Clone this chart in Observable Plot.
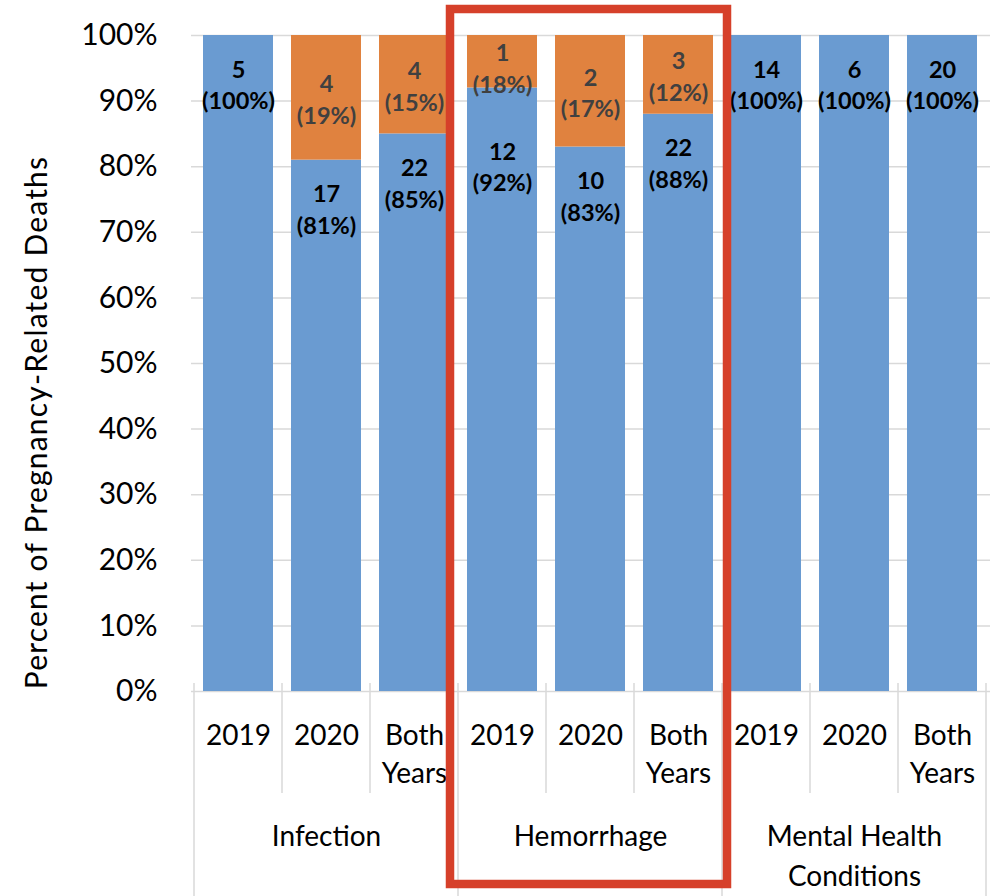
<!DOCTYPE html>
<html><head><meta charset="utf-8">
<script src="https://cdn.jsdelivr.net/npm/d3@7"></script>
<script src="https://cdn.jsdelivr.net/npm/@observablehq/plot@0.6"></script>
<style>body{margin:0;background:#fff;} svg{display:block}</style>
</head><body><div id="chart"></div>
<script>
const groups = ["Infection", "Hemorrhage", "Mental Health Conditions"];
const groupLabels = ["Infection", "Hemorrhage", "Mental Health\nConditions"];
const years = ["2019", "2020", "Both Years"];
const yearLabels = ["2019", "2020", "Both\nYears"];
const blueCounts = [5, 17, 22, 12, 10, 22, 14, 6, 20];
const bluePcts = [100, 81, 85, 92, 83, 88, 100, 100, 100];
const orangeCounts = [null, 4, 4, 1, 2, 3, null, null, null];
const orangePctLabels = [null, 19, 15, 18, 17, 12, null, null, null];
const yTicks = [0, 10, 20, 30, 40, 50, 60, 70, 80, 90, 100];
const yTitle = "Percent of Pregnancy-Related Deaths";

const keys = [];
const rows = [];
groups.forEach((g, gi) => years.forEach((yr, yi) => {
  const i = gi * 3 + yi;
  const key = g + "|" + yr;
  keys.push(key);
  const hasO = orangeCounts[i] != null;
  const oSize = 100 - bluePcts[i];
  const oCenter = Math.min((bluePcts[i] + 100) / 2, 95.2);
  // label inside end of blue segment, pushed down when the orange segment is thin
  const bLab = bluePcts[i] - (hasO && oSize < 10 ? 11.8 : 7.3);
  rows.push({key, group: g, yearLabel: yearLabels[yi], bc: blueCounts[i], bp: bluePcts[i],
    oc: orangeCounts[i], op: orangePctLabels[i], hasO, oCenter, bLab});
}));
const groupRows = groups.map((g, gi) => ({key: g + "|" + years[1], label: groupLabels[gi]}));

const plot = Plot.plot({
  width: 999, height: 896,
  marginLeft: 191, marginRight: 9, marginTop: 35, marginBottom: 205,
  x: {domain: keys, paddingInner: 0.2, paddingOuter: 0.1, axis: null},
  y: {domain: [0, 100], axis: null},
  style: {fontFamily: "Lato, sans-serif", fontSize: "28px", color: "#000", background: "#fff", overflow: "visible"},
  marks: [
    Plot.ruleY(yTicks, {y: d => d, stroke: "#d9d9d9", strokeWidth: 1.5}),
    Plot.barY(rows, {x: "key", y1: 0, y2: "bp", fill: "#6a9bd1"}),
    Plot.barY(rows.filter(d => d.hasO), {x: "key", y1: "bp", y2: 100, fill: "#e0823f"}),
    Plot.text(rows, {x: "key", y: "bLab", text: d => `${d.bc}\n(${d.bp}%)`, fontWeight: "bold", fontSize: 23.5, lineHeight: 1.35, fill: "#000"}),
    Plot.text(rows.filter(d => d.hasO), {x: "key", y: "oCenter", text: d => `${d.oc}\n(${d.op}%)`, fontWeight: "bold", fontSize: 23.5, lineHeight: 1.35, fill: "#404040"}),
    Plot.text(yTicks, {y: d => d, frameAnchor: "left", dx: -34, textAnchor: "end", text: d => d + "%", fontSize: 30, fill: "#000"}),
    Plot.text([yTitle], {frameAnchor: "left", dx: -154, dy: 59, rotate: -90, textAnchor: "middle", text: d => d, fontSize: 30, fill: "#000"}),
    Plot.text(rows, {x: "key", text: "yearLabel", frameAnchor: "bottom", lineAnchor: "top", dy: 26, lineHeight: 1.36, fontSize: 28, fill: "#000"}),
    Plot.text(groupRows, {x: "key", text: "label", frameAnchor: "bottom", lineAnchor: "top", dy: 126, lineHeight: 1.43, fontSize: 28, fill: "#000"})
  ]
});
document.getElementById("chart").appendChild(plot);

const svg = d3.select(plot);
svg.selectAll("text").filter(function() { return this.textContent === yTitle; })
  .style("letter-spacing", "1.2px");

const xs = plot.scale("x");
const ys = plot.scale("y");
const bw = xs.bandwidth;
const step = xs.apply(keys[1]) - xs.apply(keys[0]);
const gap = (step - bw) / 2;
const y0 = ys.apply(0);
const sep = svg.append("g").attr("stroke", "#d9d9d9").attr("stroke-width", 1.5);
for (let k = 0; k <= keys.length; k++) {
  const x = k < keys.length ? xs.apply(keys[k]) - gap : xs.apply(keys[keys.length - 1]) + bw + gap;
  const isGroup = k % 3 === 0;
  sep.append("line").attr("x1", x).attr("x2", x).attr("y1", y0 - 8).attr("y2", isGroup ? 896 : y0 + 102);
}
const hx1 = xs.apply("Hemorrhage|2019") - 17;
const hx2 = xs.apply("Hemorrhage|Both Years") + bw + 14;
const hy1 = ys.apply(100) - 26;
const hy2 = 884;
svg.append("rect").attr("x", hx1).attr("y", hy1).attr("width", hx2 - hx1).attr("height", hy2 - hy1)
  .attr("fill", "none").attr("stroke", "#d6402a").attr("stroke-width", 8.5);
</script></body></html>
